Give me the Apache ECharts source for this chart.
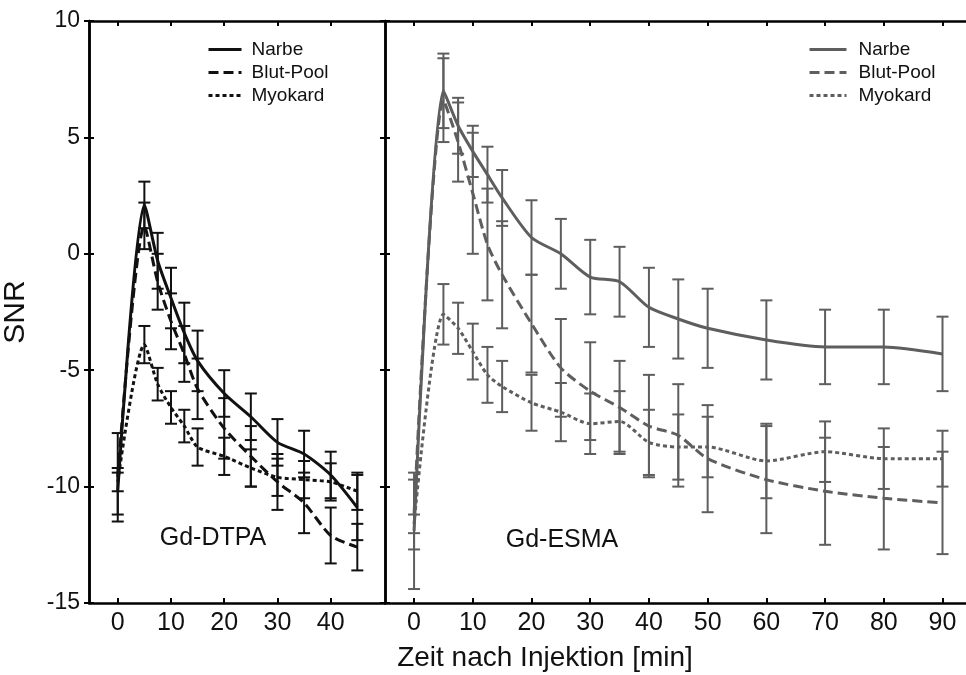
<!DOCTYPE html>
<html>
<head>
<meta charset="utf-8">
<script src="https://cdn.jsdelivr.net/npm/echarts@6/dist/echarts.min.js"></script>
<style>html,body{margin:0;padding:0;background:#fff}#c{width:966px;height:675px}</style>
</head>
<body>
<div id="c"></div>
<script>
// ---- data ----
const seriesNames = ['Narbe', 'Blut-Pool', 'Myokard'];
const xTicksLeft = [0, 10, 20, 30, 40];
const xTicksRight = [0, 10, 20, 30, 40, 50, 60, 70, 80, 90];
const yTicks = [-15, -10, -5, 0, 5, 10];

// Gd-DTPA (left panel)
const timeDTPA = [0, 5, 7.5, 10, 12.5, 15, 20, 25, 30, 35, 40, 45];
const dtpaNarbe = [-10.2, 2.1, -0.3, -1.9, -3.4, -4.6, -6.0, -7.0, -8.1, -8.6, -9.5, -10.9];
const dtpaNarbeErr = [1.0, 1.0, 1.2, 1.3, 1.3, 1.3, 1.0, 1.0, 1.0, 1.0, 1.0, 1.4];
const dtpaBlut = [-9.6, 1.2, -1.2, -2.9, -4.3, -5.8, -7.5, -8.7, -9.8, -10.7, -12.1, -12.6];
const dtpaBlutErr = [1.9, 1.0, 1.2, 1.2, 1.2, 1.3, 1.3, 1.3, 1.2, 1.3, 1.2, 1.0];
const dtpaMyo = [-9.8, -3.9, -5.6, -6.6, -7.4, -8.3, -8.7, -9.2, -9.6, -9.7, -9.8, -10.2];
const dtpaMyoErr = [0.4, 0.8, 0.7, 0.7, 0.7, 0.8, 0.8, 0.8, 0.8, 0.8, 0.8, 0.8];

// Gd-ESMA (right panel)
const timeESMA = [0, 5, 7.5, 10, 12.5, 15, 20, 25, 30, 35, 40, 45, 50, 60, 70, 80, 90];
const esmaNarbe = [-11.9, 7.0, 5.5, 4.4, 3.4, 2.4, 0.7, 0.0, -1.0, -1.2, -2.3, -2.8, -3.2, -3.7, -4.0, -4.0, -4.3];
const esmaNarbeErr = [2.5, 1.6, 1.2, 1.1, 1.2, 1.2, 1.6, 1.5, 1.6, 1.5, 1.7, 1.7, 1.7, 1.7, 1.6, 1.6, 1.6];
const esmaBlut = [-11.2, 6.6, 4.8, 2.6, 0.4, -0.9, -3.0, -4.9, -5.9, -6.6, -7.4, -7.8, -8.8, -9.7, -10.2, -10.5, -10.7];
const esmaBlutErr = [1.5, 1.8, 1.7, 2.6, 2.4, 2.3, 2.1, 2.1, 2.1, 2.0, 2.2, 2.2, 2.3, 2.3, 2.3, 2.2, 2.2];
const esmaMyo = [-11.6, -2.6, -3.2, -4.2, -5.2, -5.7, -6.4, -6.8, -7.3, -7.2, -8.1, -8.3, -8.3, -8.9, -8.5, -8.8, -8.8];
const esmaMyoErr = [0.4, 1.3, 1.1, 1.2, 1.2, 1.1, 1.2, 1.25, 1.3, 1.3, 1.4, 1.4, 1.3, 1.6, 1.3, 1.3, 1.2];

const panelLabels = ['Gd-DTPA', 'Gd-ESMA'];
const xTitle = 'Zeit nach Injektion [min]';
const yTitle = 'SNR';

// ---- styling ----
const BLACK = '#111111';
const GRAY = '#5e5e5e';
const dashTypes = ['solid', [10, 5], [4, 3]];
const narrow = '"Liberation Sans Narrow", "Liberation Sans", Arial, sans-serif';
const regular = '"Liberation Sans", Arial, sans-serif';

function pairs(xs, ys) { return xs.map((x, i) => [x, ys[i]]); }
function errData(xs, ys, es) { return xs.map((x, i) => [x, ys[i] - es[i], ys[i] + es[i]]); }

function errRender(color) {
  return function (params, api) {
    const x = api.value(0);
    const p1 = api.coord([x, api.value(2)]);
    const p2 = api.coord([x, api.value(1)]);
    const hw = 6;
    const st = { stroke: color, lineWidth: 2 };
    return {
      type: 'group',
      children: [
        { type: 'line', shape: { x1: p1[0], y1: p1[1], x2: p2[0], y2: p2[1] }, style: st },
        { type: 'line', shape: { x1: p1[0] - hw, y1: p1[1], x2: p1[0] + hw, y2: p1[1] }, style: st },
        { type: 'line', shape: { x1: p2[0] - hw, y1: p2[1], x2: p2[0] + hw, y2: p2[1] }, style: st }
      ]
    };
  };
}

const leftMeans = [dtpaNarbe, dtpaBlut, dtpaMyo];
const leftErrs = [dtpaNarbeErr, dtpaBlutErr, dtpaMyoErr];
const rightMeans = [esmaNarbe, esmaBlut, esmaMyo];
const rightErrs = [esmaNarbeErr, esmaBlutErr, esmaMyoErr];

const series = [];
seriesNames.forEach((n, i) => {
  series.push({
    type: 'custom', xAxisIndex: 0, yAxisIndex: 0, silent: true, z: 2,
    renderItem: errRender(BLACK), data: errData(timeDTPA, leftMeans[i], leftErrs[i]),
    encode: { x: 0, y: [1, 2] }
  });
  series.push({
    type: 'custom', xAxisIndex: 2, yAxisIndex: 2, silent: true, z: 2,
    renderItem: errRender(GRAY), data: errData(timeESMA, rightMeans[i], rightErrs[i]),
    encode: { x: 0, y: [1, 2] }
  });
});
seriesNames.forEach((n, i) => {
  series.push({
    name: 'L:' + n, type: 'line', xAxisIndex: 0, yAxisIndex: 0, z: 3,
    symbol: 'none', smooth: 0.25, data: pairs(timeDTPA, leftMeans[i]),
    lineStyle: { color: BLACK, width: 3, type: dashTypes[i] }, itemStyle: { color: BLACK }
  });
  series.push({
    name: 'R:' + n, type: 'line', xAxisIndex: 2, yAxisIndex: 2, z: 3,
    symbol: 'none', smooth: 0.25, data: pairs(timeESMA, rightMeans[i]),
    lineStyle: { color: GRAY, width: 3, type: dashTypes[i] }, itemStyle: { color: GRAY }
  });
});

const axisLine = { show: true, onZero: false, lineStyle: { color: '#000', width: 2.5 } };

function xAx(gridIndex, pos, min, max, ticks, labels) {
  return {
    type: 'value', gridIndex, position: pos, min, max,
    axisLine, splitLine: { show: false },
    axisTick: { show: true, inside: true, length: 5, customValues: ticks, lineStyle: { color: '#000', width: 2 } },
    axisLabel: labels ? { show: true, customValues: ticks, margin: 8, fontFamily: narrow, fontSize: 25, color: '#111' } : { show: false }
  };
}
function yAx(gridIndex, pos, inside, labels, extra) {
  return Object.assign({
    type: 'value', gridIndex, position: pos, min: -15, max: 10, interval: 5,
    axisLine, splitLine: { show: false },
    axisTick: { show: true, inside, length: 5, lineStyle: { color: '#000', width: 2 } },
    axisLabel: labels ? { show: true, margin: 9, fontFamily: regular, fontSize: 23, color: '#111' } : { show: false }
  }, extra || {});
}

const legendCommon = {
  orient: 'vertical', padding: 0, itemGap: 0, itemHeight: 14,
  formatter: n => n.slice(2), selectedMode: false,
  itemStyle: { opacity: 0 },
  lineStyle: { width: 3 },
  textStyle: { fontFamily: regular, fontSize: 19, color: '#111', lineHeight: 23 }
};

const option = {
  animation: false,
  backgroundColor: '#fff',
  grid: [
    { left: 88, top: 21, width: 297, height: 582 },
    { left: 385, top: 21, width: 581, height: 582 }
  ],
  xAxis: [
    xAx(0, 'bottom', -5.4, 50.2, xTicksLeft, true),
    xAx(0, 'top', -5.4, 50.2, xTicksLeft, false),
    xAx(1, 'bottom', -4.95, 94, xTicksRight, true),
    xAx(1, 'top', -4.95, 94, xTicksRight, false)
  ],
  yAxis: [
    yAx(0, 'left', false, true, { name: yTitle, nameLocation: 'middle', nameGap: 58, nameRotate: 90,
      nameTextStyle: { fontFamily: regular, fontSize: 30, color: '#111' } }),
    yAx(0, 'right', true, false),
    yAx(1, 'left', true, false),
    yAx(0, 'left', true, false)
  ],
  legend: [
    Object.assign({}, legendCommon, { left: 207, top: 38, itemWidth: 33,
      data: seriesNames.map(n => 'L:' + n),
      textStyle: Object.assign({}, legendCommon.textStyle, { padding: [0, 0, 0, 5] }) }),
    Object.assign({}, legendCommon, { left: 808, top: 38, itemWidth: 37,
      data: seriesNames.map(n => 'R:' + n),
      textStyle: Object.assign({}, legendCommon.textStyle, { padding: [0, 0, 0, 7] }) })
  ],
  graphic: [
    { type: 'text', x: 213, y: 538, style: { text: panelLabels[0], font: '25px "Liberation Sans", Arial', fill: '#111', textAlign: 'center', textVerticalAlign: 'middle' } },
    { type: 'text', x: 562, y: 540, style: { text: panelLabels[1], font: '25px "Liberation Sans", Arial', fill: '#111', textAlign: 'center', textVerticalAlign: 'middle' } },
    { type: 'text', x: 545, y: 658, style: { text: xTitle, font: '28px "Liberation Sans Narrow", "Liberation Sans", Arial', fill: '#111', textAlign: 'center', textVerticalAlign: 'middle' } }
  ],
  series
};

const chart = echarts.init(document.getElementById('c'), null, { renderer: 'canvas' });
chart.setOption(option);
</script>
</body>
</html>
